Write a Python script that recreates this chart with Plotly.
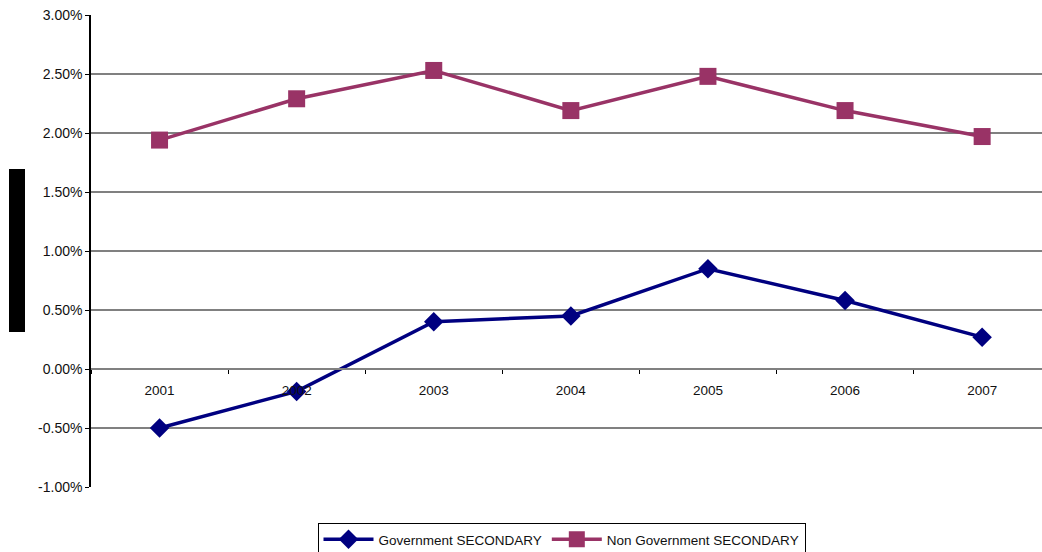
import plotly.graph_objects as go

years = ["2001", "2002", "2003", "2004", "2005", "2006", "2007"]
gov_secondary = [-0.0050, -0.0019, 0.0040, 0.0045, 0.0085, 0.0058, 0.0027]
nongov_secondary = [0.0194, 0.0229, 0.0253, 0.0219, 0.0248, 0.0219, 0.0197]
y_ticks = [-0.01, -0.005, 0.0, 0.005, 0.01, 0.015, 0.02, 0.025, 0.03]
y_tick_labels = ["-1.00%", "-0.50%", "0.00%", "0.50%", "1.00%", "1.50%", "2.00%", "2.50%", "3.00%"]

W, H = 1042, 552
L, R, T, B = 91, 0, 15, 65

fig = go.Figure()
fig.add_trace(go.Scatter(
    x=years, y=gov_secondary, name="Government SECONDARY",
    mode="lines+markers",
    line=dict(color="#000080", width=3.5),
    marker=dict(symbol="diamond", size=15, color="#000080"),
))
fig.add_trace(go.Scatter(
    x=years, y=nongov_secondary, name="Non Government SECONDARY",
    mode="lines+markers",
    line=dict(color="#993366", width=3.5),
    marker=dict(symbol="square", size=17, color="#993366"),
))

pw = W - L - R
ph = H - T - B
def px_x(v):
    return (v - L) / pw
def px_y(v):
    return (H - B - v) / ph

fig.add_shape(type="rect", xref="paper", yref="paper",
              x0=px_x(9), x1=px_x(25), y0=px_y(332), y1=px_y(169),
              fillcolor="black", line=dict(width=0), layer="above")

fig.update_layout(
    width=W, height=H,
    margin=dict(l=L, r=R, t=T, b=B, pad=0, autoexpand=False),
    paper_bgcolor="white", plot_bgcolor="white",
    font=dict(family="Liberation Sans, Arial, sans-serif", size=13, color="#111111"),
    showlegend=True,
    legend=dict(
        orientation="h", xref="container", yref="container",
        x=561.5 / W, xanchor="center",
        y=(H - 523) / H, yanchor="top",
        bordercolor="black", borderwidth=1, bgcolor="white",
        font=dict(size=13.5, color="#111111"), itemwidth=50, tracegroupgap=0,
    ),
    xaxis=dict(
        type="category", range=[-0.5, -0.5 + pw / 137.1],
        anchor="free", position=0.25, automargin=False,
        showgrid=False, showline=True, linecolor="#808080", linewidth=1.5,
        ticks="outside", tickson="boundaries", ticklen=4, tickcolor="black",
        ticklabelstandoff=9, zeroline=False,
        tickfont=dict(size=13.5, color="#111111"),
    ),
    yaxis=dict(
        range=[-0.01, 0.03], tickvals=y_ticks, ticktext=y_tick_labels,
        automargin=False,
        showgrid=True, gridcolor="#808080", gridwidth=1.5,
        showline=True, linecolor="black", linewidth=1.5,
        ticks="outside", ticklen=4, tickcolor="black",
        zeroline=False,
        tickfont=dict(size=14, color="#111111"),
    ),
)

fig.write_html(
    "out.html",
    config={"displayModeBar": False},
    post_script=(
        "document.documentElement.style.overflow='hidden';"
        "document.documentElement.style.margin='0';"
        "document.body.style.margin='0';"
        "document.body.style.overflow='hidden';"
    ),
)
